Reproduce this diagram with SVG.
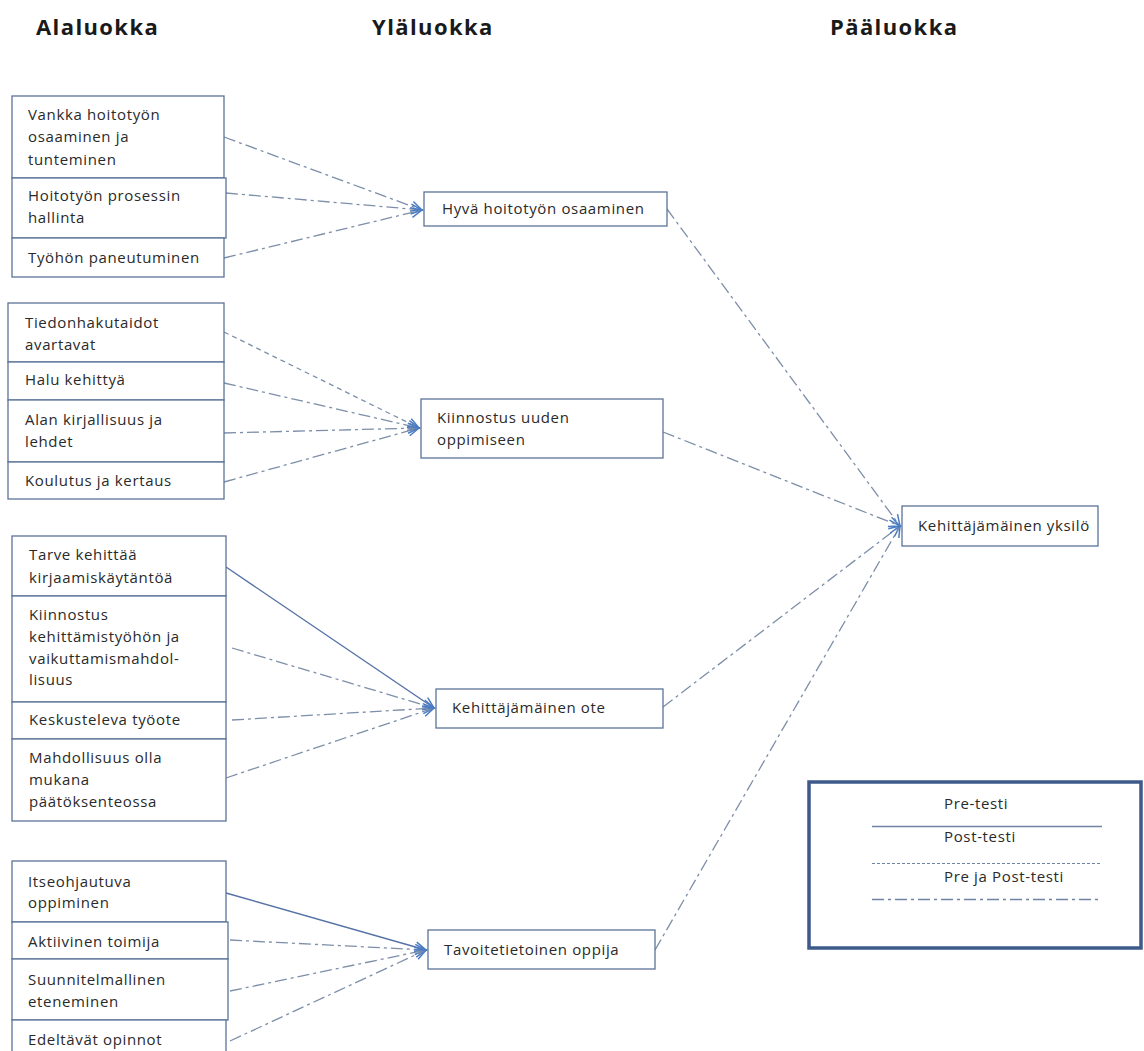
<svg xmlns="http://www.w3.org/2000/svg" width="1144" height="1051" viewBox="0 0 1144 1051">
<defs>
<style>
.hdr{font-family:"Open Sans","Liberation Sans",sans-serif;font-weight:bold;font-size:22px;letter-spacing:1.4px;fill:#1a1a1a}
.t{font-family:"Open Sans","Liberation Sans",sans-serif;font-size:15px;letter-spacing:0.65px;fill:#2a2a2a}
.box{fill:#fff;stroke:#5a7398;stroke-width:1.3}
.c{fill:none;stroke:#7d8ea8;stroke-width:1.3}
.dd{stroke-dasharray:12 4 3 4}
.ds{stroke-dasharray:5 4}
.sol{stroke:#5672a6;stroke-width:1.4}
</style>
<marker id="ah" markerUnits="userSpaceOnUse" markerWidth="14" markerHeight="14" refX="12" refY="6" orient="auto">
<path d="M1,1 L12,6 L1,11" fill="none" stroke="#4a7cc4" stroke-width="1.5"/>
</marker>
</defs>
<rect width="1144" height="1051" fill="#fff"/>
<g id="headers">
<text class="hdr" x="36" y="35">Alaluokka</text>
<text class="hdr" x="372" y="35">Yläluokka</text>
<text class="hdr" x="830" y="35">Pääluokka</text>
</g>
<g id="connectors">
<path class="c dd" d="M224,137 L422,210" marker-end="url(#ah)"/>
<path class="c dd" d="M226,193 L422,210" marker-end="url(#ah)"/>
<path class="c dd" d="M224,258 L422,210" marker-end="url(#ah)"/>
<path class="c ds" d="M224,332 L419,428" marker-end="url(#ah)"/>
<path class="c dd" d="M224,383 L419,428" marker-end="url(#ah)"/>
<path class="c dd" d="M224,433 L419,428" marker-end="url(#ah)"/>
<path class="c dd" d="M224,482 L419,428" marker-end="url(#ah)"/>
<path class="c sol" d="M226,567 L434,708" marker-end="url(#ah)"/>
<path class="c dd" d="M232,648 L434,708" marker-end="url(#ah)"/>
<path class="c dd" d="M232,720 L434,708" marker-end="url(#ah)"/>
<path class="c dd" d="M226,778 L434,708" marker-end="url(#ah)"/>
<path class="c sol" d="M226,893 L426,950" marker-end="url(#ah)"/>
<path class="c dd" d="M230,940 L426,950" marker-end="url(#ah)"/>
<path class="c dd" d="M230,991 L426,950" marker-end="url(#ah)"/>
<path class="c dd" d="M230,1041 L426,950" marker-end="url(#ah)"/>
<path class="c dd" d="M667,209 L900,526" marker-end="url(#ah)"/>
<path class="c dd" d="M663,432 L900,526" marker-end="url(#ah)"/>
<path class="c dd" d="M663,707 L900,526" marker-end="url(#ah)"/>
<path class="c dd" d="M655,950 L900,526" marker-end="url(#ah)"/>
</g>
<g id="n1"><rect class="box" x="12" y="96" width="212" height="82"/><text class="t" x="28" y="120">Vankka hoitotyön</text><text class="t" x="28" y="142">osaaminen ja</text><text class="t" x="28" y="165">tunteminen</text></g>
<g id="n2"><rect class="box" x="12" y="178" width="214" height="60"/><text class="t" x="28" y="201">Hoitotyön prosessin</text><text class="t" x="28" y="223">hallinta</text></g>
<g id="n3"><rect class="box" x="12" y="238" width="212" height="39"/><text class="t" x="28" y="263">Työhön paneutuminen</text></g>
<g id="n4"><rect class="box" x="8" y="303" width="216" height="59"/><text class="t" x="25" y="328">Tiedonhakutaidot</text><text class="t" x="25" y="350">avartavat</text></g>
<g id="n5"><rect class="box" x="8" y="362" width="216" height="38"/><text class="t" x="25" y="385">Halu kehittyä</text></g>
<g id="n6"><rect class="box" x="8" y="400" width="216" height="62"/><text class="t" x="25" y="425">Alan kirjallisuus ja</text><text class="t" x="25" y="447">lehdet</text></g>
<g id="n7"><rect class="box" x="8" y="462" width="216" height="37"/><text class="t" x="25" y="486">Koulutus ja kertaus</text></g>
<g id="n8"><rect class="box" x="12" y="536" width="214" height="60"/><text class="t" x="29" y="560">Tarve kehittää</text><text class="t" x="29" y="583">kirjaamiskäytäntöä</text></g>
<g id="n9"><rect class="box" x="12" y="596" width="214" height="106"/><text class="t" x="29" y="620">Kiinnostus</text><text class="t" x="29" y="642">kehittämistyöhön ja</text><text class="t" x="29" y="664">vaikuttamismahdol-</text><text class="t" x="29" y="685">lisuus</text></g>
<g id="n10"><rect class="box" x="12" y="702" width="214" height="37"/><text class="t" x="29" y="725">Keskusteleva työote</text></g>
<g id="n11"><rect class="box" x="12" y="739" width="214" height="82"/><text class="t" x="29" y="763">Mahdollisuus olla</text><text class="t" x="29" y="785">mukana</text><text class="t" x="29" y="807">päätöksenteossa</text></g>
<g id="n12"><rect class="box" x="12" y="861" width="214" height="61"/><text class="t" x="28" y="887">Itseohjautuva</text><text class="t" x="28" y="908">oppiminen</text></g>
<g id="n13"><rect class="box" x="12" y="922" width="216" height="37"/><text class="t" x="28" y="947">Aktiivinen toimija</text></g>
<g id="n14"><rect class="box" x="12" y="959" width="216" height="61"/><text class="t" x="28" y="985">Suunnitelmallinen</text><text class="t" x="28" y="1007">eteneminen</text></g>
<g id="n15"><rect class="box" x="12" y="1020" width="214" height="40"/><text class="t" x="28" y="1045">Edeltävät opinnot</text></g>
<g id="m1"><rect class="box" x="424" y="192" width="243" height="34"/><text class="t" x="442" y="214">Hyvä hoitotyön osaaminen</text></g>
<g id="m2"><rect class="box" x="421" y="399" width="242" height="59"/><text class="t" x="437" y="423">Kiinnostus uuden</text><text class="t" x="437" y="445">oppimiseen</text></g>
<g id="m3"><rect class="box" x="436" y="689" width="227" height="39"/><text class="t" x="452" y="713">Kehittäjämäinen ote</text></g>
<g id="m4"><rect class="box" x="428" y="930" width="227" height="39"/><text class="t" x="444" y="955">Tavoitetietoinen oppija</text></g>
<g id="top"><rect class="box" x="902" y="506" width="196" height="40"/><text class="t" x="918" y="531">Kehittäjämäinen yksilö</text></g>
<g id="legend">
<rect x="809" y="782" width="332" height="166" fill="#fff" stroke="#3d5a8a" stroke-width="3.5"/>
<text class="t" x="944" y="809">Pre-testi</text>
<line x1="872" y1="826.5" x2="1102" y2="826.5" stroke="#6f84a4" stroke-width="1.3"/>
<text class="t" x="944" y="842">Post-testi</text>
<line x1="872" y1="863.5" x2="1102" y2="863.5" stroke="#6f84a4" stroke-width="1.2" stroke-dasharray="3 2"/>
<text class="t" x="944" y="882">Pre ja Post-testi</text>
<line x1="872" y1="899.5" x2="1102" y2="899.5" stroke="#6f84a4" stroke-width="1.3" stroke-dasharray="12 4 3 4"/>
</g>
</svg>
